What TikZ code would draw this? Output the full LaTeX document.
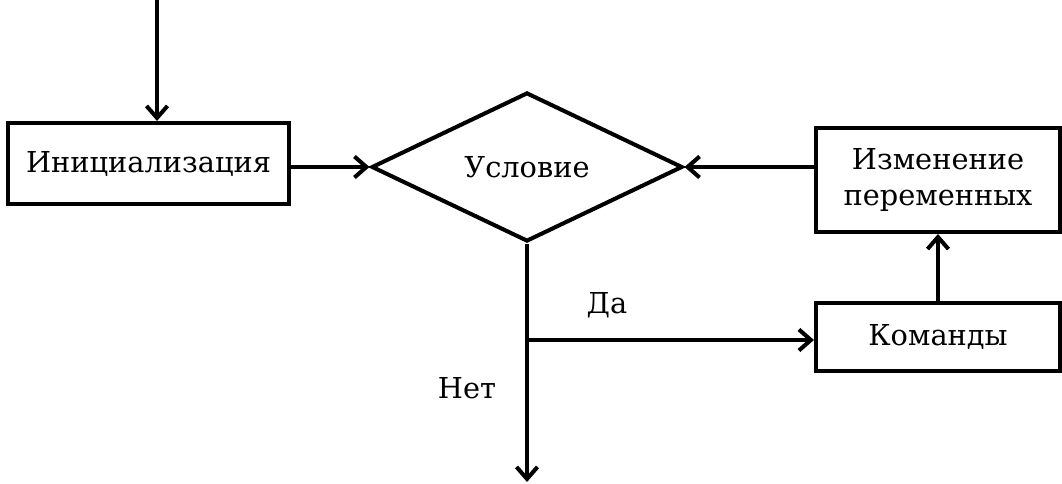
\documentclass[tikz,border=0pt]{standalone}
\usepackage{fontspec}
\setmainfont{DejaVu Serif}
\usetikzlibrary{arrows.meta,shapes.geometric,positioning}

\begin{document}
\begin{tikzpicture}[>={Straight Barb[length=2.4mm,width=4.2mm]}, line width=2.3pt, font=\fontsize{16.4}{20}\selectfont]
    \useasboundingbox (0,0) rectangle (21.24,-9.68);
    \tikzset{block/.style={draw, align=center, inner sep=0pt}}
    \node[block, minimum width=5.62cm, minimum height=1.62cm] (init) at (2.97,-3.27) {Инициализация};
    \node[draw, diamond, inner sep=0pt, minimum width=6.22cm, minimum height=2.98cm] (cond) at (10.54,-3.34) {Условие};
    \node[block, minimum width=4.88cm, minimum height=2.08cm] (change_vars) at (18.76,-3.60) {Изменение\\переменных};
    \node[block, minimum width=4.88cm, minimum height=1.36cm] (cmds) at (18.76,-6.74) {Команды};
    \node (yes_lbl) at (12.14,-6.10) {Да};
    \node (no_lbl) at (9.34,-7.76) {Нет};
    \coordinate (start) at (3.14,0);
    \coordinate (branch) at (10.54,-6.80);
    \coordinate (finish) at (10.54,-9.64);
    \draw[->] (start) -- (start |- init.north);
    \draw[->] (init.east |- cond.west) -- (cond.west);
    \draw[->] (change_vars.west |- cond.east) -- (cond.east);
    \draw[->] (cmds.north) -- (change_vars.south);
    \draw[->] (cond.south) -- (finish);
    \draw[->] (branch) -- (branch -| cmds.west);
\end{tikzpicture}
\end{document}
